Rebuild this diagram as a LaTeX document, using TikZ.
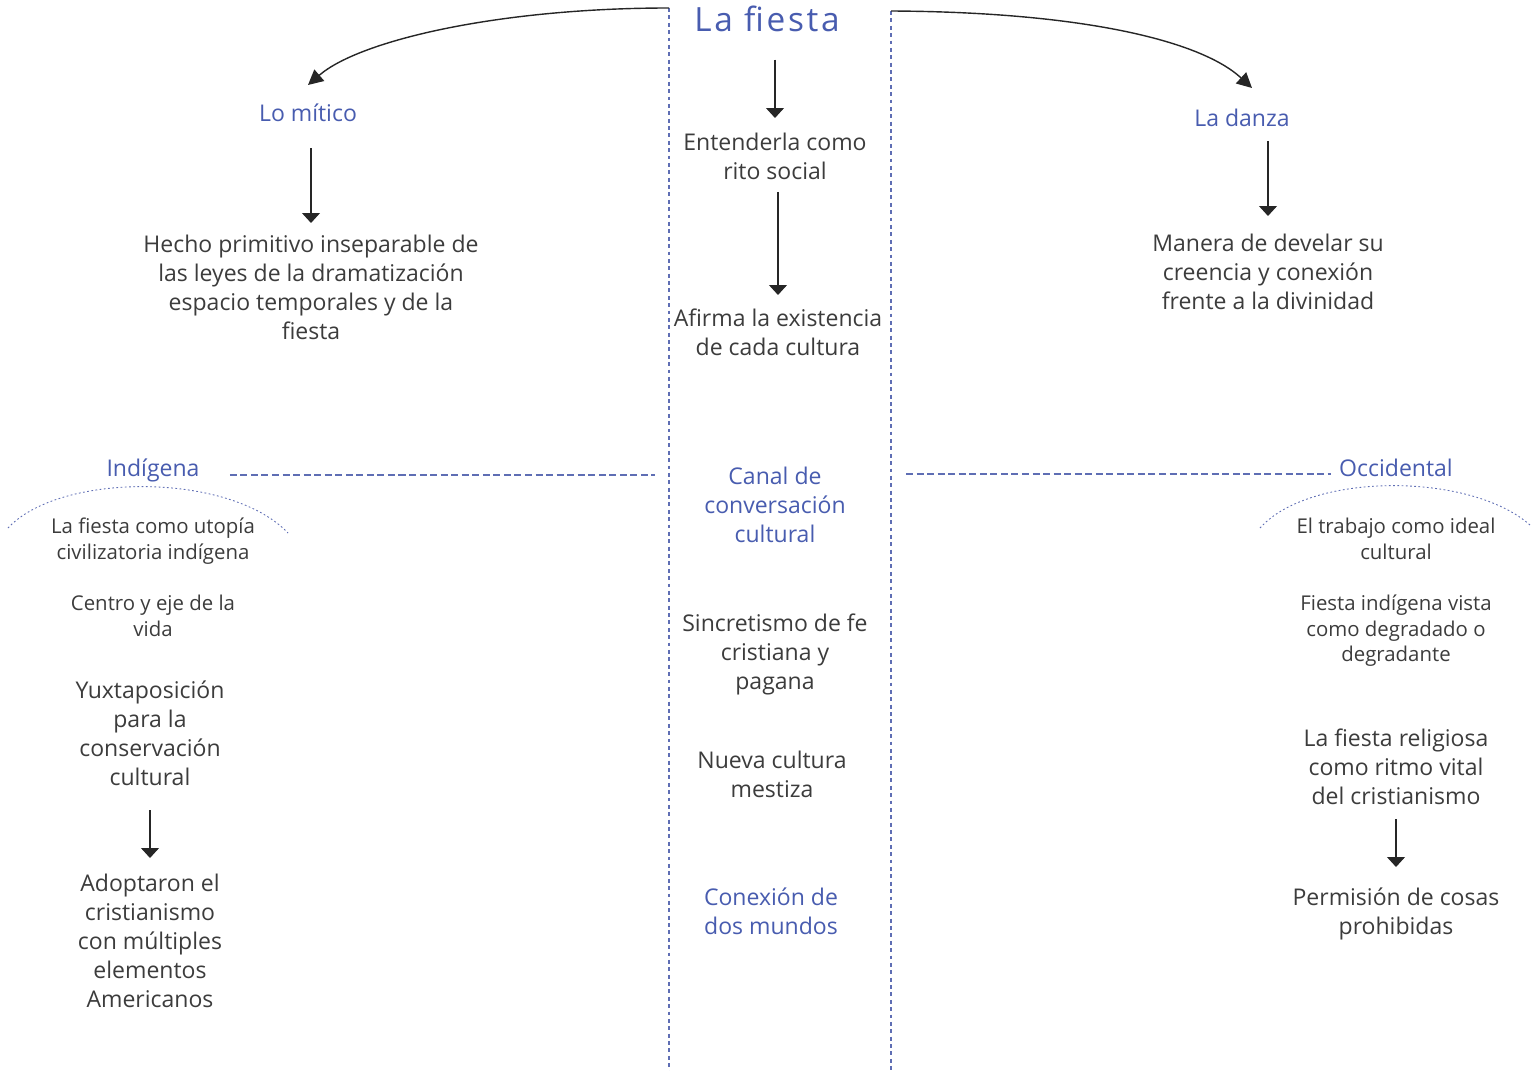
\documentclass[tikz,border=0pt]{standalone}
\usepackage{fontspec}
\setmainfont{Open Sans}
\usetikzlibrary{arrows.meta}
\definecolor{headblue}{RGB}{72,92,175}
\definecolor{textgray}{RGB}{60,60,60}
\definecolor{lineblue}{RGB}{95,110,180}

\begin{document}
\begin{tikzpicture}[x=0.02cm, y=-0.02cm,
  txt/.style    = {align=center, inner sep=0pt, anchor=north, text=textgray,
                   yshift=-0.04cm, font=\fontsize{13.1}{16.5}\selectfont},
  small/.style  = {txt, font=\fontsize{11.6}{14.5}\selectfont},
  head/.style   = {txt, text=headblue},
  title/.style  = {inner sep=0pt, anchor=base, text=headblue,
                   font=\fontsize{19}{23}\selectfont\addfontfeature{LetterSpace=8}},
  arr/.style    = {-{Triangle[width=0.36cm,length=0.2cm]}, line width=0.6pt, color=black!85},
  swing/.style  = {-{Triangle[width=0.3cm,length=0.3cm]}, line width=0.8pt, color=black!85},
  colsep/.style = {draw=lineblue, line width=0.6pt, dash pattern=on 2.2pt off 2pt},
  rowsep/.style = {draw=lineblue, line width=0.6pt, dash pattern=on 4pt off 2pt},
  arcline/.style= {draw=lineblue, line width=0.5pt, dash pattern=on 1pt off 1.4pt}
]
\useasboundingbox (0,0) rectangle (1532,1071);

% column separators
\coordinate (lsep-top) at (669,8);
\coordinate (lsep-bot) at (669,1071);
\coordinate (rsep-top) at (891,11);
\coordinate (rsep-bot) at (891,1071);
\coordinate (lsep-mid) at (669,475);
\coordinate (rsep-mid) at (891,474);
\draw[colsep] (lsep-top) -- (lsep-bot);
\draw[colsep] (rsep-top) -- (rsep-bot);

% centre column
\node[title] (fiesta) at (767,32) {La fiesta};
\node[txt]  (entender) at (775,130.5) {Entenderla como\\rito social};
\node[txt]  (afirma)   at (778,306.5) {Afirma la existencia\\de cada cultura};
\node[head] (canal)    at (775,464.5) {Canal de\\conversación\\cultural};
\node[txt]  (sincre)   at (775,611.5) {Sincretismo de fe\\cristiana y\\pagana};
\node[txt]  (nueva)    at (772,748.5) {Nueva cultura\\mestiza};
\node[head] (conexion) at (771,885.5) {Conexión de\\dos mundos};

% left side
\node[head] (mitico)   at (308,101.5) {Lo mítico};
\node[txt]  (hecho)    at (311,232.5) {Hecho primitivo inseparable de\\las leyes de la dramatización\\espacio temporales y de la\\fiesta};
\node[head] (indigena) at (153,456.5) {Indígena};
\node[small] (utopia)  at (153,516) {La fiesta como utopía\\civilizatoria indígena};
\node[small] (centro)  at (153,593) {Centro y eje de la\\vida};
\node[txt]  (yuxta)    at (150,678.5) {Yuxtaposición\\para la\\conservación\\cultural};
\node[txt]  (adoptaron) at (150,871.5) {Adoptaron el\\cristianismo\\con múltiples\\elementos\\Americanos};

% right side
\node[head] (danza)    at (1242,106.5) {La danza};
\node[txt]  (manera)   at (1268,231.5) {Manera de develar su\\creencia y conexión\\frente a la divinidad};
\node[head] (occidental) at (1396,456.5) {Occidental};
\node[small] (trabajo) at (1396,516) {El trabajo como ideal\\cultural};
\node[small] (degradado) at (1396,593) {Fiesta indígena vista\\como degradado o\\degradante};
\node[txt]  (religiosa) at (1396,726.5) {La fiesta religiosa\\como ritmo vital\\del cristianismo};
\node[txt]  (permision) at (1396,885.5) {Permisión de cosas\\prohibidas};

% vertical arrows
\foreach \from/\to/\a/\b in {fiesta/entender/0.54cm/0.29cm,
                             entender/afirma/0.24cm/0.27cm,
                             mitico/hecho/0.52cm/0.23cm,
                             danza/manera/0.28cm/0.35cm,
                             yuxta/adoptaron/0.48cm/0.31cm,
                             religiosa/permision/0.28cm/0.41cm}{
  \draw[arr, shorten <=\a, shorten >=\b] (\to.north |- \from.south) -- (\to.north);
}

% swinging arrows from the title
\coordinate (mitico-in) at (308,85);
\coordinate (danza-in)  at (1252,88);
\draw[swing] (lsep-top) .. controls (500,8) and (360,40) .. (mitico-in);
\draw[swing] (rsep-top) .. controls (1080,12) and (1200,40) .. (danza-in);

% links to the centre
\draw[rowsep, shorten <=0.6cm, shorten >=0.28cm] (indigena.east |- lsep-mid) -- (lsep-mid);
\draw[rowsep, shorten <=0.3cm, shorten >=0.16cm] (rsep-mid) -- (occidental.west |- rsep-mid);

% dotted arcs
\draw[arcline] (8,528) .. controls (60,472) and (230,472) .. (288,533);
\draw[arcline] (1260,528) .. controls (1310,472) and (1470,472) .. (1530,525);
\end{tikzpicture}
\end{document}
